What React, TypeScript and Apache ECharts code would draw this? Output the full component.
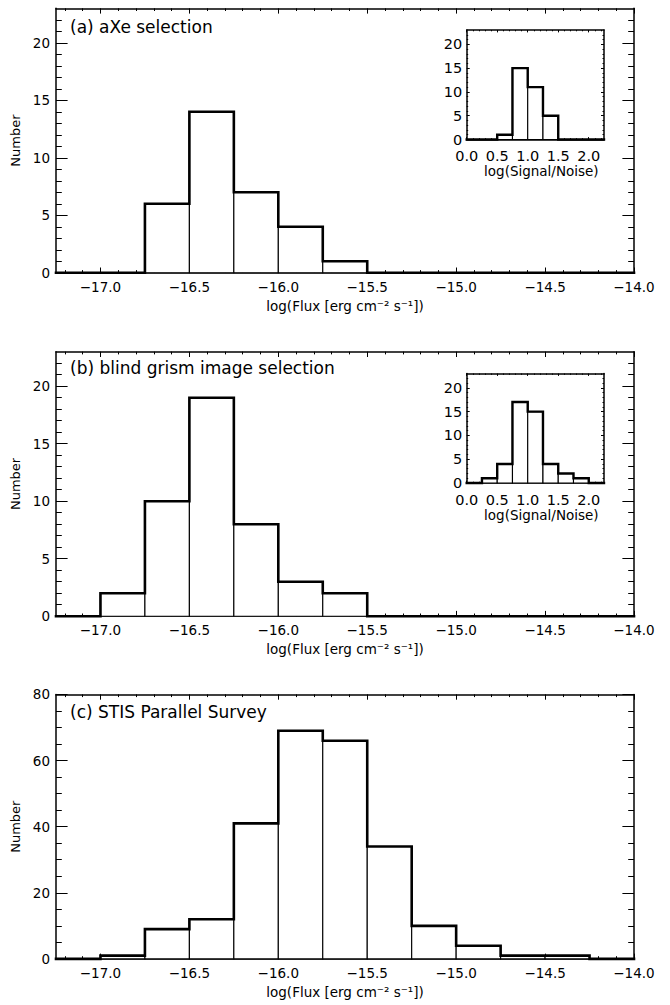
import React, { useEffect, useRef } from 'react';
import * as echarts from 'echarts';

// ---------- data ----------
const fluxEdges = [-17.25, -17.0, -16.75, -16.5, -16.25, -16.0, -15.75, -15.5, -15.25, -15.0, -14.75, -14.5, -14.25, -14.0];
const countsA = [0, 0, 6, 14, 7, 4, 1, 0, 0, 0, 0, 0, 0];
const countsB = [0, 2, 10, 19, 8, 3, 2, 0, 0, 0, 0, 0, 0];
const countsC = [0, 1, 9, 12, 41, 69, 66, 34, 10, 4, 1, 1, 0];

const snEdges = [0, 0.25, 0.5, 0.75, 1.0, 1.25, 1.5, 1.75, 2.0, 2.25];
const snCountsA = [0, 0, 1, 15, 11, 5, 0, 0, 0];
const snCountsB = [0, 1, 4, 17, 15, 4, 2, 1, 0];

const fluxTicks = [-17.0, -16.5, -16.0, -15.5, -15.0, -14.5, -14.0];
const snTicks = [0, 0.5, 1.0, 1.5, 2.0];
const numTicksAB = [0, 5, 10, 15, 20];
const numTicksC = [0, 20, 40, 60, 80];

const panelTitles = ['(a) aXe selection', '(b) blind grism image selection', '(c) STIS Parallel Survey'];
const fluxTitle = 'log(Flux [erg cm\u207B\u00B2 s\u207B\u00B9])';
const snTitle = 'log(Signal/Noise)';
const numTitle = 'Number';

// ---------- helpers ----------
const FONT = 'DejaVu Sans';

function minorsFrom(min: number, max: number, step: number, majors: number[]) {
  const out: number[] = [];
  const n = Math.round((max - min) / step);
  for (let i = 0; i <= n; i++) {
    const v = +(min + i * step).toFixed(4);
    if (!majors.some((m) => Math.abs(m - v) < 1e-6)) out.push(v);
  }
  return out;
}

const fmt1 = (v: number) => (v < 0 ? '\u2212' : '') + Math.abs(v).toFixed(1);
const fmt0 = (v: number) => String(Math.round(v));

type Spec = {
  min: number;
  max: number;
  majors: number[];
  minors: number[];
  fmt: (v: number) => string;
  fontSize: number;
  majorLen: number;
  minorLen: number;
  margin: number;
  name?: string;
  nameGap?: number;
  nameFontSize?: number;
  namePad?: number[];
};

function buildAxes(gridIndex: number, xs: Spec, ys: Spec, xAxes: any[], yAxes: any[], lw: number) {
  const xi = xAxes.length;
  const yi = yAxes.length;
  const base = (s: Spec) => ({
    gridIndex,
    type: 'value',
    min: s.min,
    max: s.max,
    splitLine: { show: false },
  });
  const line = (show: boolean) => ({ show, onZero: false, lineStyle: { color: '#000', width: lw } });
  const tick = (vals: number[], len: number) => ({
    show: true,
    inside: true,
    length: len,
    customValues: vals,
    lineStyle: { color: '#000', width: 1 },
  });
  const label = (s: Spec) => ({
    show: true,
    customValues: s.majors,
    formatter: (v: number) => s.fmt(v),
    margin: s.margin,
    fontSize: s.fontSize,
    fontFamily: FONT,
    color: '#000',
    showMinLabel: true,
    showMaxLabel: true,
  });
  const nameCfg = (s: Spec) =>
    s.name
      ? {
          name: s.name,
          nameLocation: 'middle',
          nameGap: s.nameGap,
          nameTextStyle: {
            fontSize: s.nameFontSize,
            fontFamily: FONT,
            color: '#000',
            padding: s.namePad || 0,
          },
        }
      : {};
  // x axes: bottom major (labels), bottom minor, top major, top minor
  xAxes.push({ ...base(xs), position: 'bottom', axisLine: line(true), axisTick: tick(xs.majors, xs.majorLen), axisLabel: label(xs), ...nameCfg(xs) });
  xAxes.push({ ...base(xs), position: 'bottom', axisLine: line(false), axisTick: tick(xs.minors, xs.minorLen), axisLabel: { show: false } });
  xAxes.push({ ...base(xs), position: 'top', axisLine: line(true), axisTick: tick(xs.majors, xs.majorLen), axisLabel: { show: false } });
  xAxes.push({ ...base(xs), position: 'top', axisLine: line(false), axisTick: tick(xs.minors, xs.minorLen), axisLabel: { show: false } });
  // y axes: left major (labels), left minor, right major, right minor
  yAxes.push({ ...base(ys), position: 'left', axisLine: line(true), axisTick: tick(ys.majors, ys.majorLen), axisLabel: label(ys), ...nameCfg(ys) });
  yAxes.push({ ...base(ys), position: 'left', axisLine: line(false), axisTick: tick(ys.minors, ys.minorLen), axisLabel: { show: false } });
  yAxes.push({ ...base(ys), position: 'right', axisLine: line(true), axisTick: tick(ys.majors, ys.majorLen), axisLabel: { show: false } });
  yAxes.push({ ...base(ys), position: 'right', axisLine: line(false), axisTick: tick(ys.minors, ys.minorLen), axisLabel: { show: false } });
  return { xi, yi };
}

function boxesSeries(edges: number[], counts: number[], xi: number, yi: number, lw: number) {
  const data = counts.map((c, i) => [edges[i], edges[i + 1], c]).filter((d) => d[2] > 0);
  return {
    type: 'custom',
    xAxisIndex: xi,
    yAxisIndex: yi,
    data,
    encode: { x: [0, 1], y: 2 },
    silent: true,
    z: 2,
    renderItem: (_p: any, api: any) => {
      const p0 = api.coord([api.value(0), 0]);
      const p1 = api.coord([api.value(1), api.value(2)]);
      return {
        type: 'rect',
        shape: { x: p0[0], y: p1[1], width: p1[0] - p0[0], height: p0[1] - p1[1] },
        style: { fill: '#fff', stroke: '#000', lineWidth: lw },
      };
    },
  };
}

function outlineSeries(edges: number[], counts: number[], xi: number, yi: number, lw: number) {
  const data: number[][] = [];
  counts.forEach((c, i) => {
    data.push([edges[i], c]);
    data.push([edges[i + 1], c]);
  });
  return {
    type: 'line',
    xAxisIndex: xi,
    yAxisIndex: yi,
    data,
    symbol: 'none',
    silent: true,
    clip: false,
    z: 3,
    lineStyle: { color: '#000', width: lw, join: 'miter', cap: 'square' },
  };
}

// ---------- layout ----------
const MAIN_LEFT = 56;
const MAIN_W = 578;
const MAIN_H = 264.5;
const mainTops = [8.3, 351.7, 694.4];
const INSET_LEFT = 466.7;
const INSET_W = 137.3;
const INSET_H = 109.5;
const insetTops = [30, 373.5];

export default function App() {
  const ref = useRef<HTMLDivElement>(null);

  useEffect(() => {
    if (!ref.current) return;
    const chart = echarts.init(ref.current, undefined, { renderer: 'svg' });

    const grids: any[] = [];
    const xAxes: any[] = [];
    const yAxes: any[] = [];
    const series: any[] = [];

    const fluxMinors = minorsFrom(-17.2, -14.1, 0.1, fluxTicks);
    const snMinors = minorsFrom(0.1, 2.2, 0.1, snTicks);
    const numMinorsAB = minorsFrom(1, 22, 1, numTicksAB);
    const numMinorsC = minorsFrom(5, 75, 5, numTicksC);

    const mainCounts = [countsA, countsB, countsC];
    mainCounts.forEach((counts, k) => {
      const gi = grids.length;
      grids.push({ left: MAIN_LEFT, top: mainTops[k], width: MAIN_W, height: MAIN_H, outerBoundsMode: 'none', containLabel: false });
      const xs: Spec = {
        min: -17.25,
        max: -14.0,
        majors: fluxTicks,
        minors: fluxMinors,
        fmt: fmt1,
        fontSize: 13.5,
        majorLen: 5.3,
        minorLen: 2.7,
        margin: 7,
        name: fluxTitle,
        nameGap: 26,
        nameFontSize: 13.5,
      };
      const ys: Spec = {
        min: 0,
        max: k === 2 ? 80 : 23,
        majors: k === 2 ? numTicksC : numTicksAB,
        minors: k === 2 ? numMinorsC : numMinorsAB,
        fmt: fmt0,
        fontSize: 13.5,
        majorLen: 11.6,
        minorLen: 5.8,
        margin: 6,
        name: numTitle,
        nameGap: 30,
        nameFontSize: 13,
      };
      const { xi, yi } = buildAxes(gi, xs, ys, xAxes, yAxes, 1.5);
      series.push(boxesSeries(fluxEdges, counts, xi, yi, 1.1));
      series.push(outlineSeries(fluxEdges, counts, xi, yi, 2.6));
    });

    const insetCounts = [snCountsA, snCountsB];
    insetCounts.forEach((counts, k) => {
      const gi = grids.length;
      grids.push({ left: INSET_LEFT, top: insetTops[k], width: INSET_W, height: INSET_H, outerBoundsMode: 'none', containLabel: false });
      const xs: Spec = {
        min: 0,
        max: 2.25,
        majors: snTicks,
        minors: snMinors,
        fmt: fmt1,
        fontSize: 14.5,
        majorLen: 2.4,
        minorLen: 1.3,
        margin: 9,
        name: snTitle,
        nameGap: 23,
        nameFontSize: 13.5,
        namePad: [0, 0, 0, 12],
      };
      const ys: Spec = {
        min: 0,
        max: 23,
        majors: numTicksAB,
        minors: numMinorsAB,
        fmt: fmt0,
        fontSize: 14.5,
        majorLen: 3,
        minorLen: 1.5,
        margin: 4.5,
      };
      const { xi, yi } = buildAxes(gi, xs, ys, xAxes, yAxes, 1.5);
      series.push(boxesSeries(snEdges, counts, xi, yi, 1.1));
      series.push(outlineSeries(snEdges, counts, xi, yi, 2.4));
    });

    const titleTops = mainTops.map((t, k) => t + [8.5, 6, 8][k]);
    const title = panelTitles.map((text, k) => ({
      text,
      left: 70,
      top: titleTops[k],
      padding: 0,
      textStyle: { fontSize: 17, fontWeight: 'normal', fontFamily: FONT, color: '#000', lineHeight: 20 },
    }));

    chart.setOption({
      animation: false,
      backgroundColor: '#fff',
      title,
      grid: grids,
      xAxis: xAxes,
      yAxis: yAxes,
      series,
    });

    return () => chart.dispose();
  }, []);

  return (
    <div
      ref={ref}
      style={{ position: 'absolute', left: 0, top: 0, width: 670, height: 1005, background: '#fff' }}
    />
  );
}
